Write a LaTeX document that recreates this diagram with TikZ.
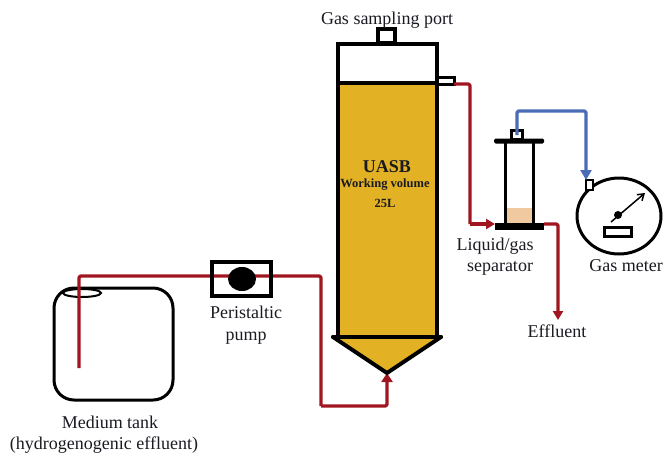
\documentclass[tikz,border=0pt]{standalone}
\usepackage{fontspec}
\setmainfont{Liberation Serif}
\usetikzlibrary{arrows.meta,shapes.geometric}
\definecolor{redpipe}{HTML}{A01520}
\definecolor{bluepipe}{HTML}{4A6BB5}
\definecolor{fillyellow}{HTML}{E3B224}
\definecolor{liquid}{HTML}{F0C9A0}
\definecolor{txt}{HTML}{1A1A22}
\tikzset{
  outline/.style={draw=black,line width=4pt,inner sep=0pt,outer sep=0pt,fill=white,rectangle},
  thinline/.style={draw=black,line width=3pt,inner sep=0pt,outer sep=0pt},
  redp/.style={draw=redpipe,line width=3.2pt,line join=round,rounded corners=1.5pt},
  bluep/.style={draw=bluepipe,line width=3.2pt,line join=round,rounded corners=1.5pt},
  lbl/.style={font=\fontsize{18}{21}\selectfont,text=txt,inner sep=0pt,align=center},
  blbl/.style={font=\fontsize{12.5}{14}\selectfont\bfseries,text=txt,inner sep=0pt,align=center},
  box/.style n args={2}{minimum width=#1,minimum height=#2}
}
\begin{document}
\begin{tikzpicture}[x=1pt,y=-1pt]
\useasboundingbox (0,0) rectangle (664,456);
% coordinates for pipe ends
\coordinate (tankin) at (79,368);
\coordinate (feedcorner) at (321,276);
\coordinate (feedlow) at (321,406);
\coordinate (coneL) at (333,337);
\coordinate (coneR) at (441,337);
\coordinate (tip) at (387,373);
\coordinate (effluentend) at (558,320);
\coordinate (sepin) at (495,224);
\coordinate (sepout) at (544,224);
\coordinate (sepbend) at (470,224);
\coordinate (bluecorner) at (586,111);
% tank
\node[thinline,draw,rectangle,rounded corners=20pt,box={119pt}{112pt},fill=white] (tank) at (113.5,344) {};
\node[thinline,draw,ellipse,line width=2pt,fill=white,box={38pt}{8pt}] (neck) at (82,293) {};
% feed pipe
\draw[redp] (tankin) |- (feedcorner) -- (feedlow);
\draw[redp,-{Triangle[length=9pt,width=11pt]}] (feedlow) -| (tip);
% pump
\node[outline,box={59pt}{34pt},fill=none] (pump) at (241.5,279) {};
\node[ellipse,fill=black,inner sep=0pt,box={28pt}{24pt}] (rotor) at (242,279) {};
% reactor
\fill[fillyellow] (coneL) -- (coneR) -- (tip) -- cycle;
\node[outline,box={99pt}{254pt},fill=fillyellow] (body) at (387.5,210) {};
\node[outline,box={99pt}{39pt}] (head) at (387.5,63.5) {};
\node[outline,box={17pt}{14pt}] (topport) at (386.5,35.5) {};
\node[outline,line width=3pt,box={17pt}{7pt}] (sideport) at (445.5,80.5) {};
\draw[black,line width=4pt,line cap=round] (coneL) -- (tip) -- (coneR);
\draw[black,line width=4pt,line cap=round] (coneL) -- (coneR);
% separator
\node[outline,line width=3pt,box={28pt}{83pt}] (tube) at (519,182.5) {};
\node[fill=liquid,inner sep=0pt,box={25pt}{16pt}] (liq) at (519.5,216) {};
\node[fill=black,inner sep=0pt,box={49pt}{7pt}] (sepbase) at (519.5,226) {};
\node[fill=black,inner sep=0pt,box={50pt}{5pt},rounded corners=1.5pt] (sepflange) at (519,141) {};
\node[outline,line width=2.6pt,box={11pt}{9pt}] (sepport) at (517,135) {};
% gas meter
\node[thinline,draw,ellipse,line width=3pt,fill=white,box={84pt}{76pt}] (meter) at (619,216) {};
\node[outline,line width=2.6pt,box={7pt}{10pt},fill=white] (meterport) at (589.5,185) {};
\node[outline,line width=3pt,box={27pt}{9pt}] (display) at (618,231.5) {};
\node[circle,fill=black,inner sep=0pt,minimum size=8pt] (hub) at (618,215) {};
\coordinate (needle) at (645,193);
\coordinate (needletail) at (611,222);
\draw[black,line width=1.5pt,-{Straight Barb[length=6pt,width=8pt]}] (needletail) -- (needle);
% pipes
\draw[redp] (sideport.south east) -| (sepbend);
\draw[redp,-{Triangle[length=9pt,width=10pt]}] (sepbend) -- (sepin);
\draw[redp,-{Triangle[length=9pt,width=10pt]}] (sepout) -| (effluentend);
\draw[bluep,-{Triangle[length=10pt,width=11pt]}] (sepport.center) |- (bluecorner) -- (meterport.north west);
% labels
\node[lbl] (t1) at (387,20) {Gas sampling port};
\node[lbl,font=\fontsize{18}{21}\selectfont\bfseries] (t2) at (387,167) {UASB};
\node[blbl] (t3) at (385,185) {Working volume};
\node[blbl] (t4) at (385,203) {25L};
\node[lbl] (t5) at (246,325.5) {Peristaltic\\[1pt]pump};
\node[lbl] (t6) at (104,434.5) {\hspace*{12pt}Medium tank\\(hydrogenogenic effluent)};
\node[lbl] (t7) at (495,257) {Liquid/gas\\\hspace*{10pt}separator};
\node[lbl] (t8) at (626,266) {Gas meter};
\node[lbl] (t9) at (557,331) {Effluent};
\end{tikzpicture}
\end{document}
